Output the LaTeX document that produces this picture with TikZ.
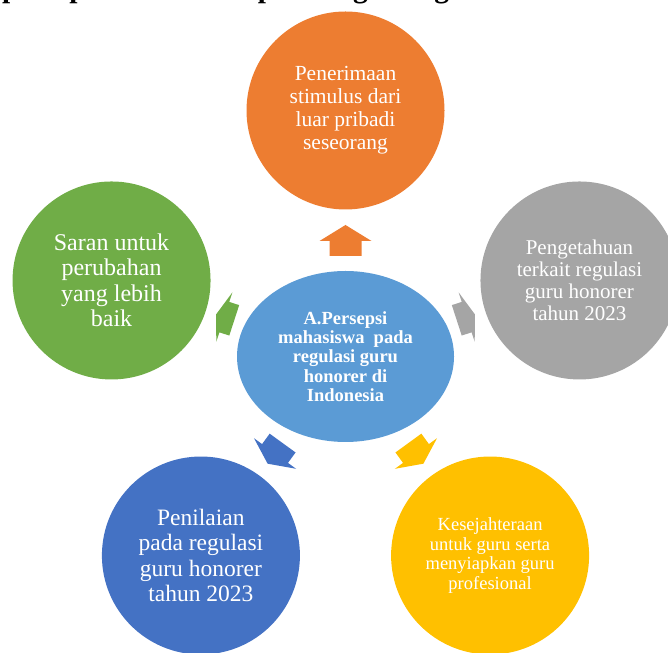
\documentclass[tikz,border=0pt]{standalone}
\usepackage{fontspec}
\setmainfont{Liberation Serif}
\usetikzlibrary{shapes.geometric,calc}

\definecolor{pusat}{HTML}{5B9BD5}
\definecolor{oranye}{HTML}{ED7D31}
\definecolor{abu}{HTML}{A5A5A5}
\definecolor{hijau}{HTML}{70AD47}
\definecolor{biru}{HTML}{4472C4}
\definecolor{kuning}{HTML}{FFC000}

\tikzset{
  bulat/.style={circle, fill=#1, minimum size=198pt, inner sep=0pt,
    align=center, text=white},
  teks/.style 2 args={font=\fontsize{#1}{#2}\selectfont}
}

% panah blok: warna, sudut, jarak dari pusat, panjang batang, panjang kepala
\newcommand{\panah}[5]{%
  \fill[#1, shift={($(persepsi.center)+(#2:#3)$)}, rotate=#2-90]
    (-16,0) -- (-16,#4) -- (-26,#4) -- (0,#4+#5) -- (26,#4)
    -- (16,#4) -- (16,0) -- cycle;}

\begin{document}
\begin{tikzpicture}[x=1pt, y=1pt]
    \useasboundingbox (0,0) rectangle (668,652);
    \clip (0,0) rectangle (668,652);

    % judul yang terpotong
    \node[anchor=base west, inner sep=0pt,
      font=\fontsize{29.5}{30}\selectfont\bfseries] (judul) at (2,654.4)
      {persepsi mahasiswa pada regulasi guru honorer};

    % lingkaran tengah
    \node[ellipse, fill=pusat, minimum width=217pt, minimum height=171pt,
      inner sep=0pt, align=center, text=white,
      font=\fontsize{18.5}{19.3}\selectfont\bfseries] (persepsi) at (345.5,295.5)
      {A.Persepsi\\mahasiswa\ \ pada\\regulasi guru\\honorer di\\Indonesia};

    % lingkaran luar
    \node[bulat=oranye, teks={21.5}{23}] (stimulus) at ($(persepsi)+(90:246)$)
      {Penerimaan\\stimulus dari\\luar pribadi\\seseorang};
    \node[bulat=abu, teks={21}{22}] (pengetahuan) at ($(persepsi)+(18:246)$)
      {Pengetahuan\\terkait regulasi\\guru honorer\\tahun 2023};
    \node[bulat=kuning, teks={18.5}{19.5}] (kesejahteraan) at ($(persepsi)+(306:246)$)
      {Kesejahteraan\\untuk guru serta\\menyiapkan guru\\profesional};
    \node[bulat=biru, teks={23.5}{25.5}] (penilaian) at ($(persepsi)+(234:246)$)
      {Penilaian\\pada regulasi\\guru honorer\\tahun 2023};
    \node[bulat=hijau, teks={24}{25.5}] (saran) at ($(persepsi)+(162:246)$)
      {Saran untuk\\perubahan\\yang lebih\\baik};

    % panah ke tiap lingkaran
    \panah{oranye}{90}{100.5}{15}{16}
    \panah{abu}{18}{117}{10.4}{8.7}
    \panah{kuning}{306}{107}{12.9}{12.6}
    \panah{biru}{234}{107}{12.9}{12.6}
    \panah{hijau}{162}{117}{10.4}{8.7}
\end{tikzpicture}
\end{document}
